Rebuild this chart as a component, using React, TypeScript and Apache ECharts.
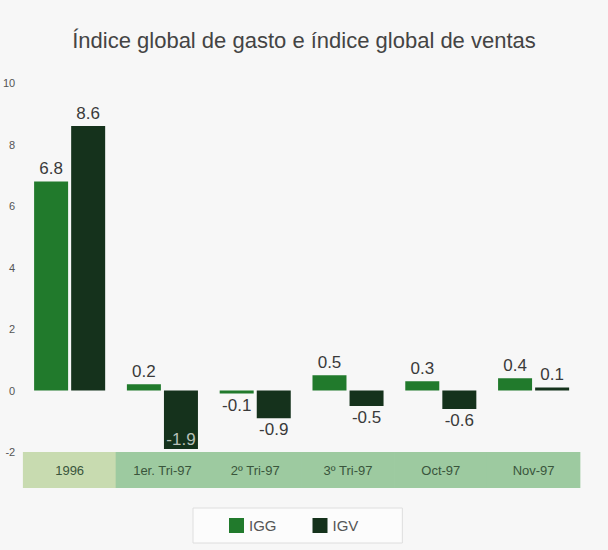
import React, { useEffect, useRef } from "react";
import * as echarts from "echarts";

const categories = ["1996", "1er. Tri-97", "2º Tri-97", "3º Tri-97", "Oct-97", "Nov-97"];
const iggValues = [6.8, 0.2, -0.1, 0.5, 0.3, 0.4];
const igvValues = [8.6, -1.9, -0.9, -0.5, -0.6, 0.1];
const yTicks = { min: -2, max: 10, interval: 2 };

const FONT = "'Liberation Sans', Arial, sans-serif";

function labelFor(v: number) {
  if (v >= 0) return { position: "top", distance: 4 };
  if (v < -1.5) return { position: "insideBottom", distance: 1, color: "#b8c0b8" };
  return { position: "bottom", distance: 3 };
}

export default function App() {
  const ref = useRef<HTMLDivElement>(null);
  useEffect(() => {
    if (!ref.current) return;
    const chart = echarts.init(ref.current, null, { renderer: "svg" });
    const mk = (vals: number[]) =>
      vals.map((v) => ({ value: v, label: labelFor(v) }));
    chart.setOption({
      animation: false,
      backgroundColor: "#f7f7f7",
      title: {
        text: "Índice global de gasto e índice global de ventas",
        left: "center",
        top: 24,
        textStyle: { fontFamily: FONT, fontSize: 22, fontWeight: "normal", color: "#444" },
      },
      grid: { left: 22, right: 28, top: 83, bottom: 98, containLabel: false },
      xAxis: {
        type: "category",
        data: categories,
        position: "bottom",
        axisLine: { show: false },
        axisTick: { show: false },
        axisLabel: {
          interval: 0,
          margin: 0,
          verticalAlign: "top",
          formatter: (v: string, i: number) => (i === 0 ? `{a|${v}}` : `{b|${v}}`),
          rich: {
            a: {
              width: 93.5, height: 36, lineHeight: 36, align: "center",
              backgroundColor: "#c8dbb0", color: "#3a553c", fontSize: 13, fontFamily: FONT,
            },
            b: {
              width: 93.5, height: 36, lineHeight: 36, align: "center",
              backgroundColor: "#9dcaa0", color: "#3a553c", fontSize: 13, fontFamily: FONT,
            },
          },
        },
      },
      yAxis: {
        type: "value",
        min: yTicks.min,
        max: yTicks.max,
        interval: yTicks.interval,
        axisLine: { show: false },
        axisTick: { show: false },
        splitLine: { show: false },
        axisLabel: { margin: 8, fontSize: 11, color: "#555", fontFamily: FONT },
      },
      legend: {
        data: ["IGG", "IGV"],
        left: 193,
        top: 508,
        icon: "rect",
        itemWidth: 15,
        itemHeight: 15,
        itemGap: 36,
        padding: [10, 44, 10, 36],
        backgroundColor: "#fcfcfc",
        borderColor: "#dedede",
        borderWidth: 1,
        textStyle: { fontFamily: FONT, fontSize: 15, color: "#555" },
      },
      series: [
        {
          name: "IGG",
          type: "bar",
          data: mk(iggValues),
          barWidth: 34,
          barGap: "9%",
          itemStyle: { color: "#217a2c" },
          label: { show: true, fontFamily: FONT, fontSize: 17, color: "#3a3a3a" },
        },
        {
          name: "IGV",
          type: "bar",
          data: mk(igvValues),
          barWidth: 34,
          itemStyle: { color: "#15321c" },
          label: { show: true, fontFamily: FONT, fontSize: 17, color: "#3a3a3a" },
        },
      ],
    });
    return () => chart.dispose();
  }, []);
  return (
    <div
      ref={ref}
      style={{ position: "absolute", left: 0, top: 0, width: 608, height: 550 }}
    />
  );
}
